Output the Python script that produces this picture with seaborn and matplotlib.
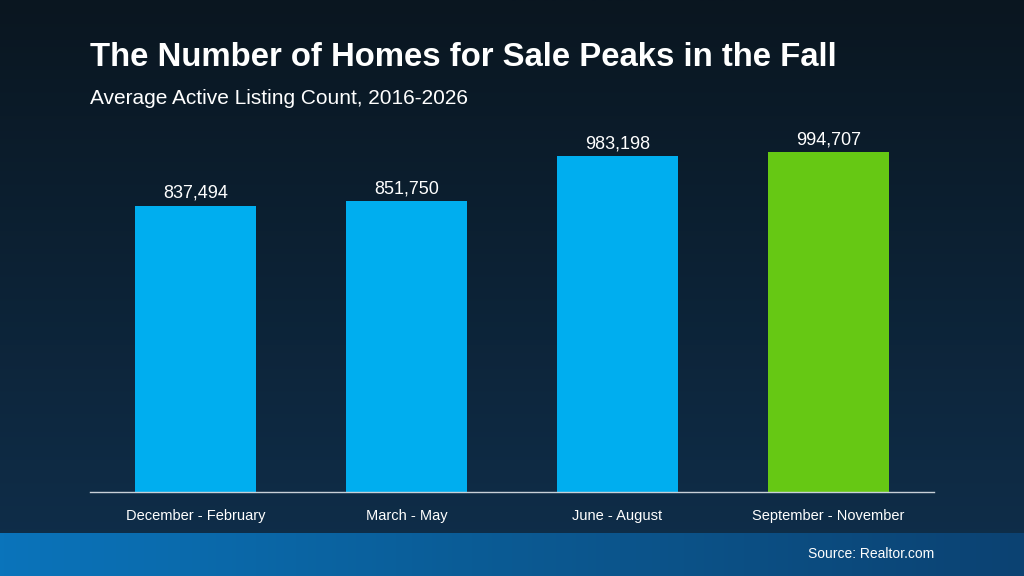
import matplotlib
matplotlib.use("Agg")
import matplotlib.pyplot as plt
import seaborn as sns
import numpy as np
import pandas as pd
from matplotlib.colors import LinearSegmentedColormap

categories = ["December - February", "March - May", "June - August", "September - November"]
values = [837494, 851750, 983198, 994707]
labels = ["837,494", "851,750", "983,198", "994,707"]
colors = ["#00aeef", "#00aeef", "#00aeef", "#66c814"]

sns.set_theme(style="white")
plt.rcParams['font.family'] = ['Liberation Sans', 'DejaVu Sans']

fig = plt.figure(figsize=(10.24, 5.76), dpi=100)
bg = fig.add_axes([0, 0, 1, 1])
grad = np.linspace(0, 1, 256).reshape(-1, 1)
cmap = LinearSegmentedColormap.from_list("bg", ["#0a1620", "#0f2f4c"])
bg.imshow(grad, aspect="auto", cmap=cmap, extent=[0, 1, 0, 1], origin="upper")
band = np.linspace(0, 1, 256).reshape(1, -1)
cmap2 = LinearSegmentedColormap.from_list("band", ["#0a74bb", "#0b5a93", "#0c4272"])
bg.imshow(band, aspect="auto", cmap=cmap2, extent=[0, 1, 0, 43/576])
bg.set_xlim(0, 1); bg.set_ylim(0, 1); bg.axis("off")

fig.text(90/1024, 1-57/576, "The Number of Homes for Sale Peaks in the Fall", color="white",
         fontsize=23.7, fontweight="bold", va="center")
fig.text(90/1024, 1-98/576, "Average Active Listing Count, 2016-2026", color="white",
         fontsize=15, va="center")
fig.text(934/1024, 1-554/576, "Source: Realtor.com", color="white", fontsize=10, ha="right", va="center")

ax = fig.add_axes([90/1024, 1-492/576, 844/1024, 375/576])
df = pd.DataFrame({"cat": categories, "val": values})
sns.barplot(data=df, x="cat", y="val", hue="cat", palette=colors, legend=False,
            width=0.57, ax=ax, saturation=1, linewidth=0, edgecolor="none")
ax.set_facecolor("none")
ax.set_xlim(-0.5, 3.5)
ax.set_ylim(0, 1098000)
for i, (v, l) in enumerate(zip(values, labels)):
    ax.text(i, v + 12000, l, ha="center", va="bottom", color="white", fontsize=13)
for s in ["top", "right", "left"]:
    ax.spines[s].set_visible(False)
ax.spines["bottom"].set_color("#c8d0d8")
ax.spines["bottom"].set_linewidth(1)
ax.set_yticks([])
ax.set_xlabel(""); ax.set_ylabel("")
ax.tick_params(axis="x", colors="white", labelsize=10.5, length=0, pad=12)

fig.savefig("out.png", dpi=100)
